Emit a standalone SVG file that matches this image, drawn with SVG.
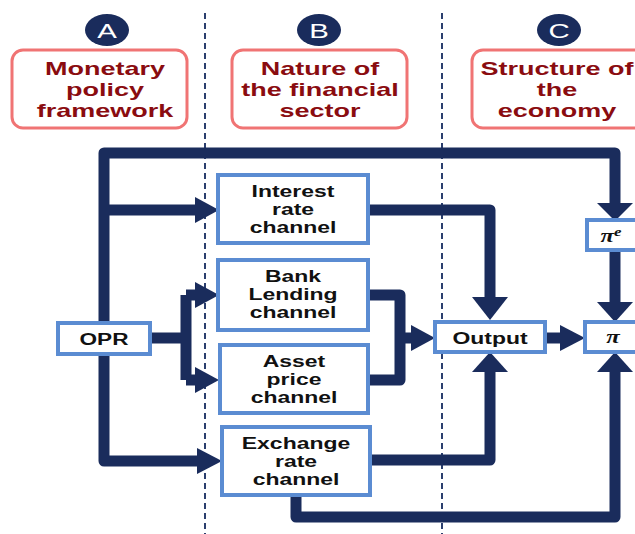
<svg xmlns="http://www.w3.org/2000/svg" width="635" height="534" viewBox="0 0 635 534">
<style>
.hdr{fill:#fff;stroke:#F07474;stroke-width:3}
.ht{font-family:"Liberation Sans",Arial,sans-serif;font-weight:bold;font-size:19px;fill:#8A0C10;text-anchor:middle}
.circ{fill:#1A2C5C}
.ct{font-family:"Liberation Sans",Arial,sans-serif;font-size:21px;fill:#fff;text-anchor:middle}
.box{fill:#fff;stroke:#5B8CD2;stroke-width:4}
.bt{font-family:"Liberation Sans",Arial,sans-serif;font-weight:bold;font-size:17px;fill:#111;text-anchor:middle}
.pt{font-family:"Liberation Serif","Times New Roman",serif;font-weight:bold;font-style:italic;font-size:19px;fill:#111;text-anchor:middle}
.dash{stroke:#2B3F6E;stroke-width:2;stroke-dasharray:6 4;fill:none}
.ln{stroke:#1A2C5C;stroke-width:11;fill:none;stroke-linejoin:round}
.ah{fill:#1A2C5C}
</style>
<rect width="635" height="534" fill="#fff"/>
<g id="dividers">
<line class="dash" x1="205" y1="13" x2="205" y2="534"/>
<line class="dash" x1="442" y1="13" x2="442" y2="534"/>
</g>
<g id="colA">
<ellipse class="circ" cx="107" cy="30" rx="22" ry="16"/>
<g transform="translate(107 0) scale(1.4 1)"><text class="ct" x="0" y="38">A</text></g>
<rect class="hdr" x="12" y="50" width="175" height="78" rx="11"/>
<g transform="translate(105 0) scale(1.42 1)">
<text class="ht" x="0" y="75">Monetary</text>
<text class="ht" x="0" y="96">policy</text>
<text class="ht" x="0" y="117">framework</text>
</g>
</g>
<g id="colB">
<ellipse class="circ" cx="319" cy="30" rx="22" ry="16"/>
<g transform="translate(319 0) scale(1.4 1)"><text class="ct" x="0" y="38">B</text></g>
<rect class="hdr" x="232" y="50" width="175" height="78" rx="11"/>
<g transform="translate(320 0) scale(1.42 1)">
<text class="ht" x="0" y="75">Nature of</text>
<text class="ht" x="0" y="96">the financial</text>
<text class="ht" x="0" y="117">sector</text>
</g>
</g>
<g id="colC">
<ellipse class="circ" cx="559" cy="30" rx="22" ry="16"/>
<g transform="translate(559 0) scale(1.4 1)"><text class="ct" x="0" y="38">C</text></g>
<rect class="hdr" x="472" y="50" width="175" height="78" rx="11"/>
<g transform="translate(557 0) scale(1.42 1)">
<text class="ht" x="0" y="75">Structure of</text>
<text class="ht" x="0" y="96">the</text>
<text class="ht" x="0" y="117">economy</text>
</g>
</g>
<g id="connectors">
<path class="ln" d="M104,323 V153 H615 V205"/>
<polygon class="ah" points="597,203 633,203 615,221"/>
<path class="ln" d="M104,210 H198"/>
<polygon class="ah" points="195,197 195,223 219,210"/>
<path class="ln" d="M104,354 V461 H200"/>
<polygon class="ah" points="197,448 197,474 222,461"/>
<path class="ln" d="M150,338 H186 M186,295 V380 M186,295 H198 M186,380 H198"/>
<polygon class="ah" points="195,282 195,308 219,295"/>
<polygon class="ah" points="195,367 195,393 219,380"/>
<path class="ln" d="M368,210 H490 V300"/>
<polygon class="ah" points="472,297 508,297 490,320"/>
<path class="ln" d="M368,295 H400 V380 H368 M400,338 H414"/>
<polygon class="ah" points="411,325 411,351 435,338"/>
<path class="ln" d="M545,338 H563"/>
<polygon class="ah" points="560,325 560,351 585,338"/>
<path class="ln" d="M615,250 V305"/>
<polygon class="ah" points="597,302 633,302 615,322"/>
<path class="ln" d="M370,460 H490 V370"/>
<polygon class="ah" points="472,372 508,372 490,352"/>
<path class="ln" d="M296,495 V517 H615 V370"/>
<polygon class="ah" points="597,372 633,372 615,352"/>
</g>
<g id="opr">
<rect class="box" x="58" y="323" width="92" height="31"/>
<g transform="translate(104 0) scale(1.33 1)"><text class="bt" x="0" y="345">OPR</text></g>
</g>
<g id="interest">
<rect class="box" x="218" y="175" width="150" height="68"/>
<g transform="translate(293 0) scale(1.35 1)">
<text class="bt" x="0" y="197">Interest</text>
<text class="bt" x="0" y="215">rate</text>
<text class="bt" x="0" y="233">channel</text>
</g>
</g>
<g id="bank">
<rect class="box" x="218" y="260" width="150" height="70"/>
<g transform="translate(293 0) scale(1.35 1)">
<text class="bt" x="0" y="282">Bank</text>
<text class="bt" x="0" y="300">Lending</text>
<text class="bt" x="0" y="318">channel</text>
</g>
</g>
<g id="asset">
<rect class="box" x="220" y="345" width="148" height="68"/>
<g transform="translate(294 0) scale(1.35 1)">
<text class="bt" x="0" y="367">Asset</text>
<text class="bt" x="0" y="385">price</text>
<text class="bt" x="0" y="403">channel</text>
</g>
</g>
<g id="exchange">
<rect class="box" x="222" y="427" width="148" height="68"/>
<g transform="translate(296 0) scale(1.35 1)">
<text class="bt" x="0" y="449">Exchange</text>
<text class="bt" x="0" y="467">rate</text>
<text class="bt" x="0" y="485">channel</text>
</g>
</g>
<g id="output">
<rect class="box" x="435" y="322" width="110" height="30"/>
<g transform="translate(490 0) scale(1.35 1)"><text class="bt" x="0" y="344">Output</text></g>
</g>
<g id="pi-e">
<rect class="box" x="587" y="220" width="60" height="30"/>
<g transform="translate(611 0) scale(1.3 1)"><text class="pt" x="0" y="242">π<tspan font-size="13" dy="-6">e</tspan></text></g>
</g>
<g id="pi">
<rect class="box" x="585" y="322" width="62" height="30"/>
<g transform="translate(613 0) scale(1.3 1)"><text class="pt" x="0" y="343">π</text></g>
</g>
</svg>
